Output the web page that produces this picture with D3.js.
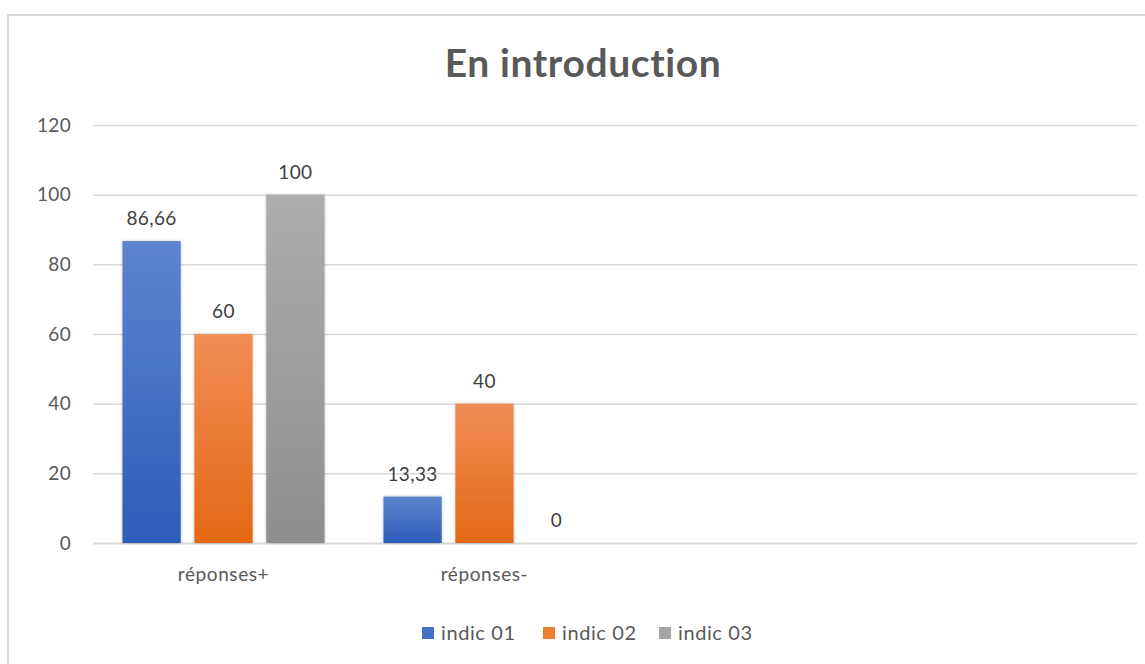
<!DOCTYPE html>
<html>
<head>
<meta charset="utf-8">
<script src="https://cdn.jsdelivr.net/npm/d3@7"></script>
<style>
  body { margin: 0; background: #fff; font-family: Lato, "Open Sans", sans-serif; }
  svg text { font-family: Lato, "Open Sans", sans-serif; }
</style>
</head>
<body>
<script>
(function () {

  // chart data
  let title      = 'En introduction';
  let categories = ['réponses+', 'réponses-', '', ''];
  let series     = ['indic 01', 'indic 02', 'indic 03'];
  let values     = [
    [86.66, 60, 100],
    [13.33, 40, 0]
  ];
  let labels     = [
    ['86,66', '60', '100'],
    ['13,33', '40', '0']
  ];
  let yTicks     = [0, 20, 40, 60, 80, 100, 120];

  let colors   = ['#4472c4', '#ed7d31', '#a5a5a5'];
  let gradTop  = ['#5d84ce', '#f18d56', '#adadad'];
  let gradBot  = ['#2e5db8', '#e36815', '#8e8e8e'];

  function go() {
    let totalWidth  = 1145;
    let totalHeight = 664;
    let margin      = { top: 125, right: 8, bottom: 121, left: 93 };
    let width       = totalWidth - (margin.left + margin.right);
    let height      = totalHeight - (margin.top + margin.bottom);

    let svg = d3.select('body').append('svg')
        .attr('width', totalWidth)
        .attr('height', totalHeight);

    let defs = svg.append('defs');
    series.forEach(function (s, i) {
      let g = defs.append('linearGradient')
          .attr('id', 'grad' + i)
          .attr('x1', 0).attr('y1', 0).attr('x2', 0).attr('y2', 1);
      g.append('stop').attr('offset', '0%').attr('stop-color', gradTop[i]);
      g.append('stop').attr('offset', '100%').attr('stop-color', gradBot[i]);
    });
    defs.append('filter').attr('id', 'shadow')
        .attr('x', '-20%').attr('y', '-5%').attr('width', '140%').attr('height', '110%')
      .append('feDropShadow')
        .attr('dx', 0).attr('dy', 0).attr('stdDeviation', 1.5)
        .attr('flood-color', '#000').attr('flood-opacity', 0.25);

    // chart frame
    svg.append('rect')
      .attr('x', 8).attr('y', 15)
      .attr('width', totalWidth + 10).attr('height', totalHeight)
      .attr('fill', '#fff')
      .attr('stroke', '#d9d9d9')
      .attr('stroke-width', 2);

    svg.append('text')
      .attr('x', 583)
      .attr('y', 77)
      .attr('text-anchor', 'middle')
      .attr('font-size', 39)
      .attr('font-weight', 'bold')
      .attr('letter-spacing', 0.6)
      .attr('fill', '#595959')
      .text(title);

    let x0 = d3.scaleBand().domain(d3.range(categories.length)).range([0, width]);
    let x1 = d3.scaleBand().domain(d3.range(series.length))
        .range([0, x0.bandwidth()])
        .paddingInner(0.19)
        .paddingOuter(0.41);
    let y  = d3.scaleLinear().domain([0, 120]).range([height, 0]);

    let plot = svg.append('g')
        .attr('transform', 'translate(' + margin.left + ',' + margin.top + ')');

    // gridlines
    let yAxis = d3.axisLeft(y)
        .tickValues(yTicks)
        .tickSize(-width)
        .tickPadding(22)
        .tickFormat(d3.format('d'));

    let ga = plot.append('g').call(yAxis);
    ga.select('.domain').remove();
    ga.selectAll('.tick line')
      .attr('stroke', '#d9d9d9')
      .attr('stroke-width', function (d) { return d === 0 ? 2 : 1.5; });
    ga.selectAll('.tick text')
      .attr('font-size', 19)
      .attr('letter-spacing', 0.3)
      .attr('fill', '#595959');

    // bars
    let groups = plot.selectAll('g.cat').data(values)
      .enter().append('g')
        .attr('class', 'cat')
        .attr('transform', function (d, i) { return 'translate(' + x0(i) + ',0)'; });

    groups.each(function (row, ci) {
      let g = d3.select(this);
      g.selectAll('rect').data(row).enter().append('rect')
        .filter(function (d) { return d > 0; })
        .attr('x', function (d, i) { return x1(i); })
        .attr('y', function (d) { return y(d); })
        .attr('width', x1.bandwidth())
        .attr('height', function (d) { return height - y(d); })
        .attr('fill', function (d, i) { return 'url(#grad' + i + ')'; })
        .attr('filter', 'url(#shadow)');

      g.selectAll('text.lbl').data(row).enter().append('text')
        .attr('class', 'lbl')
        .attr('x', function (d, i) { return x1(i) + x1.bandwidth() / 2; })
        .attr('y', function (d) { return y(d) - 16; })
        .attr('text-anchor', 'middle')
        .attr('font-size', 19)
        .attr('letter-spacing', 0.4)
        .attr('fill', '#404040')
        .text(function (d, i) { return labels[ci][i]; });
    });

    // category labels
    plot.selectAll('text.cat').data(categories)
      .enter().append('text')
        .attr('class', 'cat')
        .attr('x', function (d, i) { return x0(i) + x0.bandwidth() / 2; })
        .attr('y', height + 38)
        .attr('text-anchor', 'middle')
        .attr('font-size', 19)
        .attr('letter-spacing', 0.6)
        .attr('fill', '#595959')
        .text(function (d) { return d; });

    // legend
    let legendX = [422, 543, 659];
    let legend = svg.selectAll('g.legend').data(series)
      .enter().append('g')
        .attr('class', 'legend')
        .attr('transform', function (d, i) { return 'translate(' + legendX[i] + ',627)'; });

    legend.append('rect')
      .attr('width', 12).attr('height', 12)
      .attr('fill', function (d, i) { return colors[i]; });

    legend.append('text')
      .attr('x', 19)
      .attr('y', 13)
      .attr('font-size', 20)
      .attr('letter-spacing', 0.6)
      .attr('fill', '#595959')
      .text(function (d) { return d; });
  }

  document.addEventListener('DOMContentLoaded', go);

})();
</script>
</body>
</html>
